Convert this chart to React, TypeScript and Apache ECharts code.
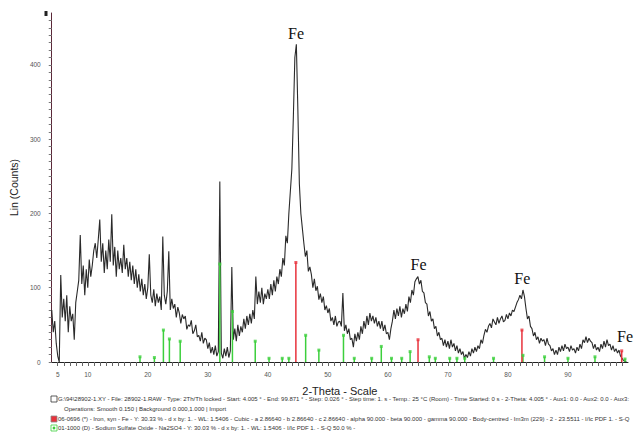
import React, { useEffect, useRef } from "react";
import * as echarts from "echarts";

// 2-Theta sampling grid of the measured pattern
const thetaStart = 4;
const thetaStep = 0.25;

// Measured intensity (Lin counts), one value per 0.25° from 4.00°
const counts: number[] = [
  70, 40, 55, 25, 8, 0, 117, 60, 85, 55, 90, 40, 75, 55, 65, 30,
  80, 95, 110, 171, 105, 130, 90, 125, 100, 138, 115, 130, 150, 160, 140, 165,
  192, 135, 160, 120, 150, 125, 165, 135, 199, 130, 155, 115, 150, 125, 140, 120,
  158, 125, 140, 115, 135, 110, 130, 105, 125, 100, 118, 95, 112, 90, 105, 85,
  100, 145, 90, 80, 98, 75, 92, 80, 88, 70, 169, 90, 78, 95, 149, 70,
  85, 72, 78, 60, 74, 66, 52, 64, 58, 62, 44, 50, 48, 56, 38, 42,
  50, 34, 36, 28, 40, 25, 32, 30, 18, 26, 12, 20, 10, 22, 8, 14,
  243, 12, 5, 18, 8, 20, 6, 15, 128, 30, 45, 28, 50, 35, 48, 40,
  58, 45, 62, 50, 65, 52, 70, 58, 115, 78, 95, 80, 100, 78, 92, 85,
  98, 85, 105, 90, 110, 95, 115, 105, 125, 115, 140, 130, 170, 160, 200, 230,
  260, 330, 410, 428, 340, 240, 200, 180, 160, 142, 150, 122, 128, 118, 100, 112,
  96, 102, 84, 92, 80, 88, 70, 76, 66, 72, 55, 60, 50, 62, 48, 54,
  55, 48, 93, 42, 50, 38, 45, 30, 32, 20, 38, 28, 40, 30, 48, 38,
  55, 45, 62, 50, 66, 55, 62, 52, 60, 48, 55, 45, 55, 42, 50, 38,
  40, 30, 45, 55, 70, 58, 72, 62, 75, 60, 72, 65, 78, 68, 88, 80,
  97, 90, 108, 112, 115, 105, 110, 95, 93, 80, 78, 62, 68, 55, 58, 45,
  48, 35, 40, 30, 32, 22, 30, 20, 28, 18, 30, 20, 25, 15, 22, 12,
  18, 10, 14, 5, 10, 6, 14, 8, 18, 12, 20, 14, 22, 18, 30, 25,
  36, 44, 40, 48, 52, 46, 58, 54, 50, 60, 52, 58, 62, 54, 56, 64,
  58, 66, 62, 70, 68, 74, 80, 84, 90, 85, 97, 88, 72, 58, 62, 48,
  45, 35, 40, 30, 34, 25, 32, 28, 30, 22, 32, 24, 22, 15, 18, 10,
  16, 10, 20, 14, 22, 15, 24, 18, 20, 14, 22, 16, 18, 12, 20, 15,
  24, 18, 30, 26, 34, 26, 32, 28, 26, 18, 24, 16, 20, 14, 24, 18,
  28, 20, 30, 22, 24, 16, 22, 14, 18, 12, 16, 8, 5, 2, 1, 0,
];

// Reference pattern 06-0696 Iron (Fe)
const ironPos = [44.67, 65.02, 82.33, 98.95];
const ironInt = [134, 30, 43, 15];

// Reference pattern 01-1000 Sodium Sulfate Oxide (Na2SO4)
const sodiumPos = [18.7, 21.1, 22.6, 23.6, 25.4, 32.0, 34.1, 37.9, 40.2, 42.4, 43.5, 46.3, 48.5, 52.6, 54.4, 57.3, 58.9, 60.6, 62.3, 63.7, 66.9, 67.9, 70.3, 71.5, 72.8, 77.6, 82.5, 86.1, 90.0, 94.5, 99.5];
const sodiumInt = [7, 6, 43, 31, 28, 132, 68, 28, 5, 5, 5, 36, 16, 36, 5, 5, 21, 5, 5, 14, 7, 5, 5, 5, 5, 5, 9, 7, 5, 7, 4];

// Tick labels
const xLabels = [5, 10, 20, 30, 40, 50, 60, 70, 80, 90];
const yLabels = [0, 100, 200, 300, 400];

// Peak annotations (label centre in data coordinates)
const feLabels: [number, number][] = [[44.69, 443], [65.1, 131], [82.4, 113], [99.5, 35]];

const footerLines = [
  "G:\\94\\28902-1.XY - File: 28902-1.RAW - Type: 2Th/Th locked - Start: 4.005 \u00b0 - End: 99.871 \u00b0 - Step: 0.026 \u00b0 - Step time: 1. s - Temp.: 25 \u00b0C (Room) - Time Started: 0 s - 2-Theta: 4.005 \u00b0 - Aux1: 0.0 - Aux2: 0.0 - Aux3:",
  "Operations: Smooth 0.150 | Background 0.000,1.000 | Import",
  "06-0696 (*) - Iron, syn - Fe - Y: 30.33 % - d x by: 1. - WL: 1.5406 - Cubic - a 2.86640 - b 2.86640 - c 2.86640 - alpha 90.000 - beta 90.000 - gamma 90.000 - Body-centred - Im3m (229) - 2 - 23.5511 - I/Ic PDF 1. - S-Q",
  "01-1000 (D) - Sodium Sulfate Oxide - Na2SO4 - Y: 30.03 % - d x by: 1. - WL: 1.5406 - I/Ic PDF 1. - S-Q 50.0 % -",
];

export default function App() {
  const ref = useRef<HTMLDivElement>(null);
  useEffect(() => {
    if (!ref.current) return;
    const chart = echarts.init(ref.current, null, { renderer: "svg" });
    const lineData = counts.map((v, i) => [thetaStart + i * thetaStep, v]);
    const ironData = ironPos.map((p, i) => [p, ironInt[i]]);
    const sodiumData = sodiumPos.map((p, i) => [p, sodiumInt[i]]);
    const xTicks: number[] = [];
    for (let t = 5; t <= 99; t++) xTicks.push(t);
    const yTicks: number[] = [];
    for (let t = 0; t <= 460; t += 10) yTicks.push(t);

    const tickFont = { fontSize: 6.5, color: "#555", fontFamily: "Liberation Sans, Arial, sans-serif" };
    const footerFont = "6px 'Liberation Sans', Arial, sans-serif";
    const footerY = [399, 409, 419, 428];

    chart.setOption({
      animation: false,
      backgroundColor: "#fff",
      grid: { left: 46, right: 10, top: 13, bottom: 70, containLabel: false },
      xAxis: {
        type: "value",
        min: 4,
        max: 100,
        name: "2-Theta - Scale",
        nameLocation: "middle",
        nameGap: 23,
        nameTextStyle: { fontSize: 11, color: "#222", fontFamily: "Liberation Sans, Arial, sans-serif" },
        axisLine: { show: true, lineStyle: { color: "#222", width: 1 } },
        axisTick: { show: true, customValues: xTicks, length: 4, lineStyle: { color: "#666" } },
        axisLabel: { customValues: xLabels, margin: 9, ...tickFont },
        splitLine: { show: false },
      },
      yAxis: {
        type: "value",
        min: 0,
        max: 470,
        name: "Lin (Counts)",
        nameLocation: "middle",
        nameGap: 19,
        nameTextStyle: { fontSize: 10.5, color: "#222", fontFamily: "Liberation Sans, Arial, sans-serif" },
        axisLine: { show: true, lineStyle: { color: "#5a2838", width: 1 } },
        axisTick: { show: true, customValues: yTicks, length: 3, lineStyle: { color: "#777" } },
        axisLabel: { customValues: yLabels, margin: 11, ...tickFont },
        splitLine: { show: false },
      },
      series: [
        {
          type: "line",
          data: lineData,
          showSymbol: false,
          symbol: "none",
          lineStyle: { color: "#2a2a2a", width: 1.1 },
          z: 2,
          markPoint: {
            symbol: "circle",
            symbolSize: 1,
            itemStyle: { color: "rgba(0,0,0,0)" },
            label: {
              show: true,
              position: "inside",
              formatter: "Fe",
              fontFamily: "Liberation Serif, Times New Roman, serif",
              fontSize: 16,
              color: "#111",
            },
            data: feLabels.map((c) => ({ coord: c })),
          },
        },
        {
          type: "bar",
          data: sodiumData,
          barWidth: 1.5,
          barGap: "-100%",
          itemStyle: { color: "#3ccf3c" },
          z: 3,
        },
        {
          type: "bar",
          data: ironData,
          barWidth: 1.5,
          barGap: "-100%",
          itemStyle: { color: "#e8323c" },
          z: 4,
        },
        {
          type: "scatter",
          data: sodiumData,
          symbol: "rect",
          symbolSize: 3,
          itemStyle: { color: "#3ccf3c" },
          z: 5,
        },
        {
          type: "scatter",
          data: ironData,
          symbol: "rect",
          symbolSize: 3,
          itemStyle: { color: "#e8323c" },
          z: 6,
        },
      ],
      graphic: [
        { type: "rect", x: 44.5, y: 11, shape: { width: 3, height: 5 }, style: { fill: "#222" } },
        { type: "rect", x: 51, y: footerY[0] - 3, shape: { width: 6, height: 6 }, style: { fill: "#fff", stroke: "#333", lineWidth: 0.8 } },
        { type: "rect", x: 51, y: footerY[2] - 3, shape: { width: 6, height: 6 }, style: { fill: "#e8323c", stroke: "#888", lineWidth: 0.8 } },
        { type: "rect", x: 51, y: footerY[3] - 3, shape: { width: 6, height: 6 }, style: { fill: "#fff", stroke: "#3ccf3c", lineWidth: 0.8 } },
        { type: "circle", shape: { cx: 54, cy: footerY[3], r: 1.4 }, style: { fill: "#3ccf3c" } },
        ...footerLines.map((t, i) => ({
          type: "text",
          x: i === 1 ? 64 : 58,
          y: footerY[i],
          style: { text: t, font: footerFont, fill: "#333", textVerticalAlign: "middle", textAlign: "left" },
        })),
      ],
    });
    return () => chart.dispose();
  }, []);
  return (
    <div
      ref={ref}
      style={{ position: "fixed", left: 0, top: 0, width: 638, height: 432, background: "#fff" }}
    />
  );
}
